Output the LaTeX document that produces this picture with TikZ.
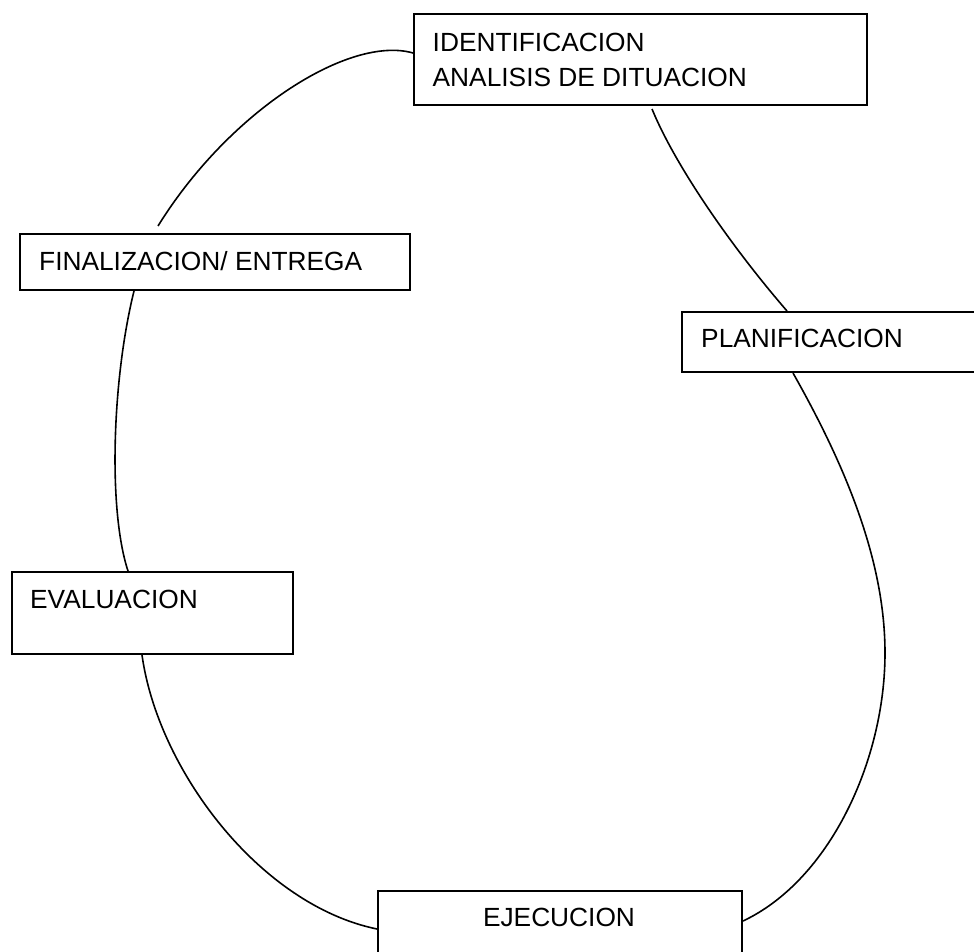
\documentclass[tikz,border=0pt]{standalone}
\usepackage{fontspec}
\setmainfont{Liberation Sans}
\begin{document}
\begin{tikzpicture}[x=1pt,y=-1pt,
  box/.style={draw=black, line width=2pt, fill=none, inner sep=0pt, anchor=north west},
  lbl/.style={inner sep=0pt, font=\fontsize{26.3}{32}\selectfont},
  link/.style={draw=black, line width=1.6pt}]
\path[use as bounding box, clip] (0,0) rectangle (974,952);
% boxes
\node[box, minimum width=453pt, minimum height=91pt] (ident) at (413,13) {};
\node[box, minimum width=390pt, minimum height=56pt] (fin) at (19,233) {};
\node[box, minimum width=320pt, minimum height=60pt] (plan) at (681,311) {};
\node[box, minimum width=281pt, minimum height=82pt] (eval) at (11,571) {};
\node[box, minimum width=364pt, minimum height=100pt] (ejec) at (377,890) {};
% texts
\node[lbl, anchor=base west] (identA) at (432.5,52) {IDENTIFICACION};
\node[lbl, anchor=base west] (identB) at (432.5,87) {ANALISIS DE DITUACION};
\node[lbl, anchor=base west] (finT) at (39,270) {FINALIZACION/ ENTREGA};
\node[lbl, anchor=base west] (planT) at (701,347) {PLANIFICACION};
\node[lbl, anchor=base west] (evalT) at (30,608) {EVALUACION};
\node[lbl, anchor=base] (ejecT) at (559,926) {EJECUCION};
% connectors
\coordinate (pe) at (885,653);
\draw[link] ([yshift=-40pt]ident.north west) .. controls (350,35) and (230,110) .. ([xshift=139pt,yshift=7pt]fin.north west);
\draw[link] ([xshift=239pt,yshift=-3pt]ident.south west) .. controls (675,165) and (730,245) .. ([xshift=106pt]plan.north west);
\draw[link] ([xshift=112pt]plan.south west) .. controls (845,465) and (885,560) .. (pe)
  .. controls (885,760) and (830,880) .. ([yshift=-31pt]ejec.north east);
\draw[link] ([xshift=131pt]eval.south west) .. controls (158,770) and (260,905) .. ([yshift=-39pt]ejec.north west);
\draw[link] ([xshift=115pt]fin.south west) .. controls (112,380) and (108,510) .. ([xshift=117pt]eval.north west);
\end{tikzpicture}
\end{document}
